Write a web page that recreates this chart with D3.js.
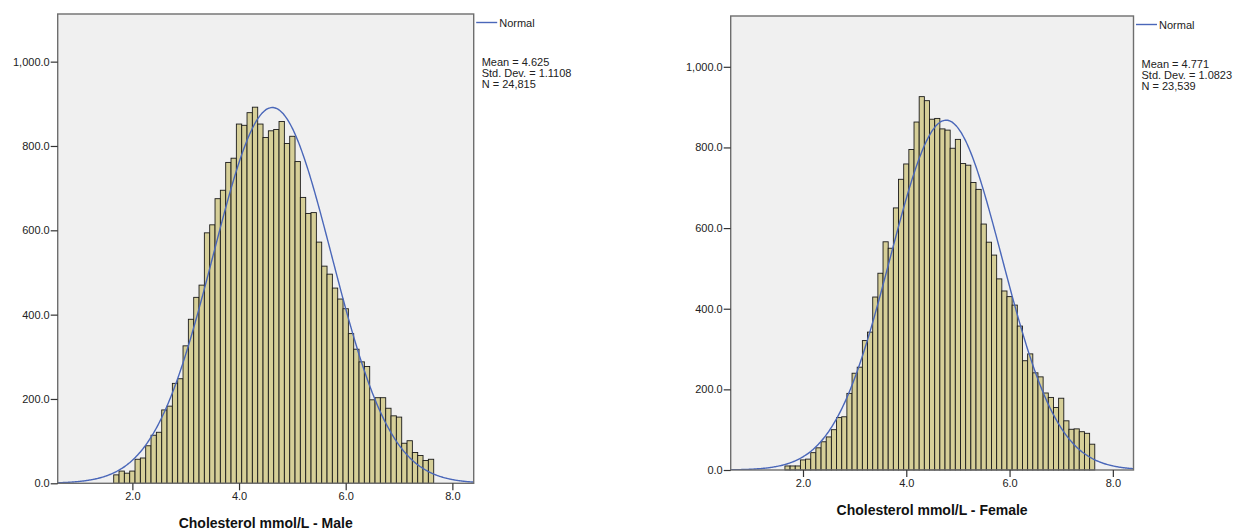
<!DOCTYPE html>
<html>
<head>
<meta charset="utf-8">
<script src="https://cdn.jsdelivr.net/npm/d3@7"></script>
<style>
	body { margin: 0; background: #fff; }
	svg { display: block; font-family: "Liberation Sans", Arial, sans-serif; }
</style>
</head>
<body>
<div id="viz-holder"></div>
<script>
// bin centres (bin width 0.1, shared by both histograms)
let binCenters = [1.7, 1.8, 1.9, 2.0, 2.1, 2.2, 2.3, 2.4, 2.5, 2.6,
	2.7, 2.8, 2.9, 3.0, 3.1, 3.2, 3.3, 3.4, 3.5, 3.6,
	3.7, 3.8, 3.9, 4.0, 4.1, 4.2, 4.3, 4.4, 4.5, 4.6,
	4.7, 4.8, 4.9, 5.0, 5.1, 5.2, 5.3, 5.4, 5.5, 5.6,
	5.7, 5.8, 5.9, 6.0, 6.1, 6.2, 6.3, 6.4, 6.5, 6.6,
	6.7, 6.8, 6.9, 7.0, 7.1, 7.2, 7.3, 7.4, 7.5, 7.6];

let maleCounts = [20, 29, 24, 29, 57, 60, 89, 114, 121, 174,
	183, 237, 248, 326, 389, 441, 470, 594, 613, 675,
	695, 761, 771, 852, 849, 879, 892, 852, 820, 836,
	839, 858, 806, 823, 763, 678, 640, 642, 572, 515,
	496, 463, 437, 414, 355, 318, 288, 277, 198, 203,
	203, 178, 160, 157, 95, 101, 73, 66, 54, 57];

let femaleCounts = [10, 10, 10, 25, 27, 43, 55, 70, 82, 100,
	130, 132, 190, 240, 255, 321, 342, 429, 488, 566,
	550, 650, 721, 759, 795, 863, 926, 916, 870, 872,
	846, 843, 798, 820, 760, 756, 713, 696, 610, 565,
	533, 474, 444, 430, 409, 357, 271, 288, 241, 231,
	191, 180, 155, 178, 122, 101, 102, 95, 91, 64];

let statMean = [4.625, 4.771];
let statSD = [1.1108, 1.0823];
let statN = [24815, 23539];
let statLabels = [
	["Mean = 4.625", "Std. Dev. = 1.1108", "N = 24,815"],
	["Mean = 4.771", "Std. Dev. = 1.0823", "N = 23,539"]
];
let titles = ["Cholesterol mmol/L - Male", "Cholesterol mmol/L - Female"];
let xTicks = [2, 4, 6, 8];
let yTicks = [0, 200, 400, 600, 800, 1000];

let binWidth = 0.1;

let svg = d3.select('#viz-holder')
	.append('svg')
	.attr('width', 1235)
	.attr('height', 532);

// panel frames in pixels, yMax is the value at the top of the frame
let panels = [
	{ left: 57.7, right: 473.7, top: 14, bottom: 483.3, yMax: 1113, counts: maleCounts },
	{ left: 730.7, right: 1133.5, top: 16, bottom: 470, yMax: 1126, counts: femaleCounts }
];

panels.forEach(function (p, i) {
	drawHistogram(p, i);
});

function drawHistogram(p, i) {
	let g = svg.append('g');

	let x = d3.scaleLinear()
		.domain([0.6, 8.4])
		.range([p.left, p.right]);

	let y = d3.scaleLinear()
		.domain([0, p.yMax])
		.range([p.bottom, p.top]);

	// plot background
	g.append('rect')
		.attr('x', p.left)
		.attr('y', p.top)
		.attr('width', p.right - p.left)
		.attr('height', p.bottom - p.top)
		.attr('fill', '#f0f0f0');

	let clipId = 'clip' + i;
	g.append('clipPath')
		.attr('id', clipId)
		.append('rect')
		.attr('x', p.left)
		.attr('y', p.top)
		.attr('width', p.right - p.left)
		.attr('height', p.bottom - p.top);

	// bars
	g.selectAll('.bar')
		.data(binCenters)
		.enter()
		.append('rect')
		.attr('class', 'bar')
		.attr('x', (d) => x(d - binWidth / 2))
		.attr('width', (d) => x(d + binWidth / 2) - x(d - binWidth / 2))
		.attr('y', (d, j) => y(p.counts[j]))
		.attr('height', (d, j) => y(0) - y(p.counts[j]))
		.attr('fill', '#d6cf98')
		.attr('stroke', '#1a1a1a')
		.attr('stroke-width', 0.9);

	// fitted normal curve
	let mean = statMean[i], sd = statSD[i], n = statN[i];
	let curvePts = d3.range(0.6, 8.41, 0.02).map(function (v) {
		let z = (v - mean) / sd;
		return [v, n * binWidth * Math.exp(-0.5 * z * z) / (sd * Math.sqrt(2 * Math.PI))];
	});

	let line = d3.line()
		.x((d) => x(d[0]))
		.y((d) => y(d[1]))
		.curve(d3.curveBasis);

	g.append('path')
		.datum(curvePts)
		.attr('clip-path', 'url(#' + clipId + ')')
		.attr('d', line)
		.attr('fill', 'none')
		.attr('stroke', '#4a67b9')
		.attr('stroke-width', 1.4);

	// frame
	g.append('rect')
		.attr('x', p.left)
		.attr('y', p.top)
		.attr('width', p.right - p.left)
		.attr('height', p.bottom - p.top)
		.attr('fill', 'none')
		.attr('stroke', '#6e6e6e')
		.attr('stroke-width', 1.4);

	// axes
	let yAxis = d3.axisLeft(y)
		.tickValues(yTicks)
		.tickFormat(d3.format(',.1f'))
		.tickSize(7)
		.tickPadding(1);

	let yg = g.append('g')
		.attr('transform', 'translate(' + p.left + ',0)')
		.call(yAxis);

	let xAxis = d3.axisBottom(x)
		.tickValues(xTicks)
		.tickFormat(d3.format('.1f'))
		.tickSize(7)
		.tickPadding(2);

	let xg = g.append('g')
		.attr('transform', 'translate(0,' + p.bottom + ')')
		.call(xAxis);

	[yg, xg].forEach(function (a) {
		a.select('.domain').remove();
		a.selectAll('.tick line').attr('stroke', '#333').attr('stroke-width', 1.2);
		a.selectAll('.tick text')
			.attr('fill', '#222')
			.style('font-size', '11px')
			.style('font-family', '"Liberation Sans", Arial, sans-serif');
	});

	// axis title
	g.append('text')
		.attr('x', (p.left + p.right) / 2)
		.attr('y', p.bottom + 45)
		.attr('text-anchor', 'middle')
		.attr('fill', '#111')
		.style('font-size', '14px')
		.style('font-weight', 'bold')
		.text(titles[i]);

	// legend
	let lx = p.right + 2.5;
	let ly = p.top + 8.5;
	g.append('line')
		.attr('x1', lx)
		.attr('x2', lx + 21)
		.attr('y1', ly)
		.attr('y2', ly)
		.attr('stroke', '#4a67b9')
		.attr('stroke-width', 1.4);

	g.append('text')
		.attr('x', lx + 23)
		.attr('y', ly + 4)
		.attr('fill', '#222')
		.style('font-size', '11px')
		.text('Normal');

	g.selectAll('.stat')
		.data(statLabels[i])
		.enter()
		.append('text')
		.attr('class', 'stat')
		.attr('x', p.right + 8)
		.attr('y', (d, k) => p.top + 52 + k * 11)
		.attr('fill', '#222')
		.style('font-size', '11px')
		.text((d) => d);
}
</script>
</body>
</html>
